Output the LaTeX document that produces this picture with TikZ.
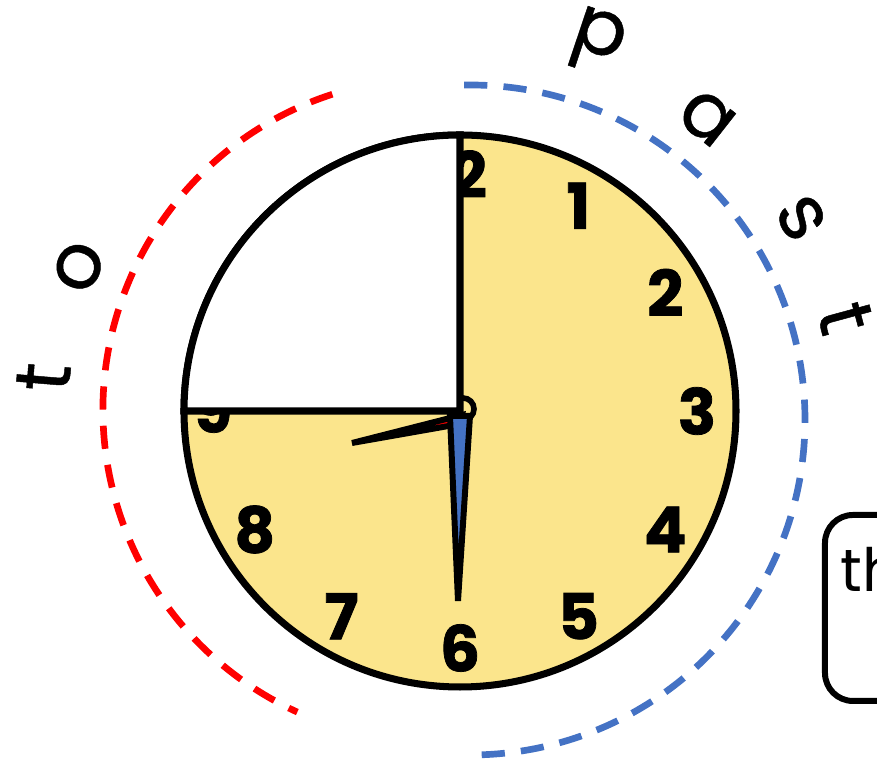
\documentclass[tikz,border=0pt]{standalone}
\usepackage{fontspec}
\setmainfont{Poppins}
\newfontfamily\dialfont[BoldFeatures={FakeBold=1.2}]{Poppins}
\newfontfamily\arcfont[FakeBold=0.6]{Poppins}
\definecolor{dialyellow}{RGB}{251,229,140}
\definecolor{pastblue}{RGB}{68,114,196}
\definecolor{tored}{RGB}{255,0,0}

\begin{document}
\begin{tikzpicture}[
  numeral/.style={font=\dialfont\fontsize{18}{18}\selectfont\bfseries, inner sep=0pt},
  arcletter/.style={font=\arcfont\fontsize{22}{22}\selectfont, inner sep=0pt},
  arcline/.style={line width=1.9pt, dash pattern=on 6.6pt off 4.6pt},
  hand/.style={draw=black, line width=1.7pt},
  notebox/.style={draw, line width=1.7pt, rounded corners=0.28cm}
]
  \useasboundingbox (-4.60,-3.52) rectangle (4.17,4.11);
  \clip (-4.60,-3.52) rectangle (4.17,4.11);
  % centres of the two dashed arcs
  \coordinate (rc) at (-0.25,0.01);
  \coordinate (bc) at (0.10,-0.09);
  \draw[arcline, tored] ([shift={(108:3.32)}]rc) arc (108:245.5:3.32);
  \draw[arcline, pastblue] ([shift={(91:3.35)}]bc) arc (91:-90:3.35);
  % letters along the arcs
  \foreach \ch/\ang/\rad [count=\i] in {t/175.2/3.93, o/158.1/3.84}
    \node[arcletter, rotate=\ang-90] (to\i) at ([shift={(\ang:\rad)}]rc) {\ch};
  \foreach \ch/\ang/\rad [count=\i] in {p/71.4/3.99, a/51.9/3.84, s/31.4/3.88, t/15.2/3.89}
    \node[arcletter, rotate=\ang-90] (past\i) at ([shift={(\ang:\rad)}]bc) {\ch};
  % dial
  \filldraw[fill=dialyellow, line width=2pt] (0,0) circle (2.76);
  \foreach \n/\ang in {1/60, 2/30, 3/0, 4/-30, 5/-60, 6/-90, 7/-120, 8/-150, 10/150, 11/120}
    \node[numeral] (n\n) at (\ang:2.37) {\n};
  \node[numeral] (n9) at (-2.47,0.02) {9};
  \node[numeral] (n12) at (-0.03,2.37) {12};
  \filldraw[fill=dialyellow, line width=1.6pt] (0.03,0.02) circle (0.11);
  % hands
  \filldraw[hand, fill=tored] (0.02,-0.04) -- (-1.08,-0.32) -- (0,-0.13) -- cycle;
  \filldraw[hand, fill=pastblue] (-0.10,-0.05) -- (0.10,-0.05) -- (-0.02,-1.90) -- cycle;
  % quarter already gone
  \filldraw[fill=white, line width=2pt] (0,0) -- (0,2.76) arc (90:180:2.76) -- cycle;
  % note
  \node[notebox, minimum width=2.2cm, minimum height=1.86cm, anchor=north west] (note) at (3.62,-1.01) {};
  \node[font=\fontsize{17}{17}\selectfont, inner sep=0pt, anchor=base west] (notetext)
    at ([xshift=0.18cm,yshift=-0.80cm]note.north west) {th};
\end{tikzpicture}
\end{document}
